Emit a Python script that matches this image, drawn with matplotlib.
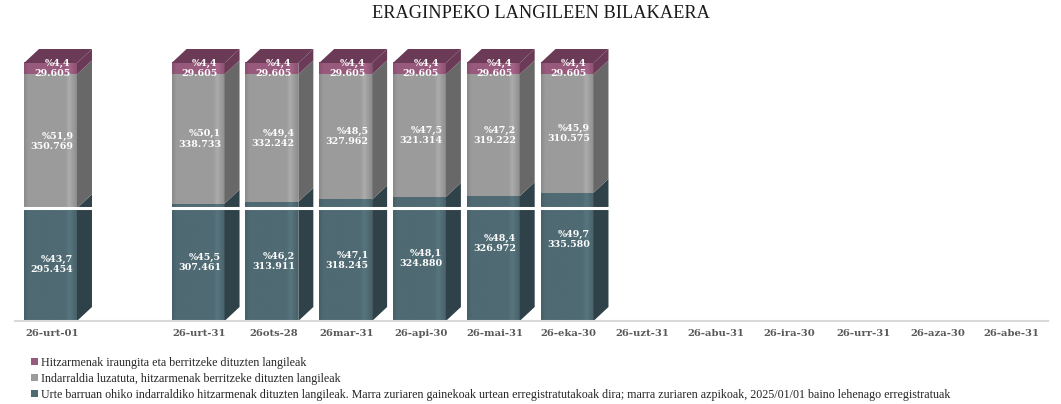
import numpy as np
import matplotlib
matplotlib.use("Agg")
import matplotlib.pyplot as plt
from matplotlib.patches import Polygon, Patch
from matplotlib.colors import to_rgb

# ---------------- data ----------------
categories = ["26-urt-01", "", "26-urt-31", "26ots-28", "26mar-31", "26-api-30",
              "26-mai-31", "26-eka-30", "26-uzt-31", "26-abu-31", "26-ira-30",
              "26-urr-31", "26-aza-30", "26-abe-31"]
# None = no bar for that category
teal_vals = [295454, None, 307461, 313911, 318245, 324880, 326972, 335580,
             None, None, None, None, None, None]
gray_vals = [350769, None, 338733, 332242, 327962, 321314, 319222, 310575,
             None, None, None, None, None, None]
pink_vals = [29605, None, 29605, 29605, 29605, 29605, 29605, 29605,
             None, None, None, None, None, None]
teal_pct = [43.7, None, 45.5, 46.2, 47.1, 48.1, 48.4, 49.7,
            None, None, None, None, None, None]
gray_pct = [51.9, None, 50.1, 49.4, 48.5, 47.5, 47.2, 45.9,
            None, None, None, None, None, None]
pink_pct = [4.4, None, 4.4, 4.4, 4.4, 4.4, 4.4, 4.4,
            None, None, None, None, None, None]
white_line_pct = 43.7

series_names = [
    "Hitzarmenak iraungita eta berritzeke dituzten langileak",
    "Indarraldia luzatuta, hitzarmenak berritzeke dituzten langileak",
    "Urte barruan ohiko indarraldiko hitzarmenak dituzten langileak. Marra zuriaren gainekoak urtean erregistratutakoak dira; marra zuriaren azpikoak, 2025/01/01 baino lehenago erregistratuak",
]
title = "ERAGINPEKO LANGILEEN BILAKAERA"

# ---------------- style ----------------
W, H = 1061, 404
fig = plt.figure(figsize=(W / 100, H / 100), dpi=100)
ax_l, ax_r, ax_t, ax_b = 15, 1048, 40, 321
ax = fig.add_axes([ax_l / W, 1 - ax_b / H, (ax_r - ax_l) / W, (ax_b - ax_t) / H])
YMAX = 100 * (ax_b - ax_t) / (ax_b - 63)
ax.set_xlim(-0.5, len(categories) - 0.5)
ax.set_ylim(0, YMAX)

px_x = (len(categories)) / (ax_r - ax_l)      # data units per pixel (x)
px_y = YMAX / (ax_b - ax_t)                   # data units per pixel (y)

front_l, front_r = -0.378, 0.340
dx = 15 * px_x
dy = 14 * px_y

colors = {
    "teal": ("#4f6a73", "#2f4249"),
    "gray": ("#9b9b9b", "#686868"),
    "pink": ("#985a7c", "#6a3a56"),
}

profile_x = np.linspace(0, 1, 80)
profile = (0.90 + 0.10 * np.clip(profile_x / 0.08, 0, 1)
           + 0.10 * np.exp(-((profile_x - 0.86) / 0.05) ** 2)
           - 0.08 * np.clip((profile_x - 0.94) / 0.06, 0, 1))


def shaded_rect(x0, x1, y0, y1, base):
    rgb = np.array(to_rgb(base))
    img = np.clip(profile[:, None] * rgb[None, :], 0, 1)[None, :, :]
    ax.imshow(img, extent=[x0, x1, y0, y1], aspect="auto",
              interpolation="bilinear", zorder=2)


label_nudge_px = {6: 15, 7: 17}  # manual label offsets in the original (teal)

for i, cat in enumerate(categories):
    if teal_vals[i] is None:
        continue
    segs = [(teal_pct[i], teal_vals[i], "teal"),
            (gray_pct[i], gray_vals[i], "gray"),
            (pink_pct[i], pink_vals[i], "pink")]
    xl, xr = i + front_l, i + front_r
    bottom = 0
    for k, (p, v, key) in enumerate(segs):
        front, side = colors[key]
        y0, y1 = bottom, bottom + p
        shaded_rect(xl, xr, y0, y1, front)
        ax.add_patch(Polygon([(xr, y0), (xr + dx, y0 + dy), (xr + dx, y1 + dy), (xr, y1)],
                             closed=True, facecolor=side, edgecolor="none", zorder=2))
        txt = f"%{p:.1f}".replace(".", ",") + "\n" + f"{v:,}".replace(",", ".")
        ymid = (y0 + y1) / 2
        if key == "teal" and i in label_nudge_px:
            ymid += label_nudge_px[i] * px_y
        ax.text((xl + xr) / 2 + 1.5 * px_x, ymid, txt, ha="center", va="center",
                multialignment="right", color="white", fontsize=6.8,
                family="DejaVu Serif", fontweight="bold", linespacing=1.15, zorder=5)
        bottom = y1
    top = bottom
    ax.add_patch(Polygon([(xl, top), (xl + dx, top + dy), (xr + dx, top + dy), (xr, top)],
                         closed=True, facecolor=colors["pink"][1], edgecolor="none", zorder=2))

# white reference line
last_bar = max(i for i, v in enumerate(teal_vals) if v is not None)
ax.plot([front_l - 0.06, last_bar + front_r + dx + 0.02], [white_line_pct] * 2,
        color="white", lw=2.2, zorder=4, solid_capstyle="butt")

# axes styling
for s in ["top", "right", "left"]:
    ax.spines[s].set_visible(False)
ax.spines["bottom"].set_color("#d9d9d9")
ax.spines["bottom"].set_linewidth(1.5)
ax.set_yticks([])
ax.set_xticks(range(len(categories)))
ax.set_xticklabels(categories, fontsize=7.2, family="DejaVu Serif",
                   fontweight="bold", color="#595959")
ax.tick_params(axis="x", length=0, pad=6)
ax.set_facecolor("white")

fig.text(541 / W, 1 - 14 / H, title, ha="center", va="center",
         fontsize=13.2, family="Liberation Serif", color="#1a1a1a")

handles = [Patch(facecolor=colors["pink"][0]), Patch(facecolor=colors["gray"][0]),
           Patch(facecolor=colors["teal"][0])]
fig.legend(handles, series_names, loc="upper left",
           bbox_to_anchor=(31 / W, 1 - 357 / H), frameon=False,
           prop={"family": "Liberation Serif", "size": 8.65},
           handlelength=0.55, handleheight=0.55, handletextpad=0.25,
           labelspacing=0.33, borderpad=0, borderaxespad=0, labelcolor="#262626")

fig.savefig("out.png", dpi=100, facecolor="white")
